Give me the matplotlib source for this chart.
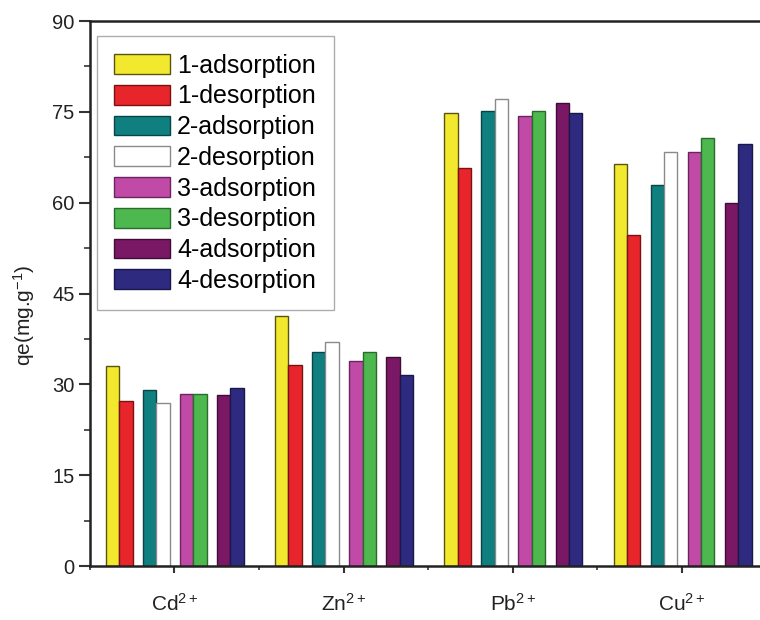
import numpy as np
import matplotlib
matplotlib.use("Agg")
import matplotlib.pyplot as plt
from matplotlib.ticker import MultipleLocator, FixedLocator

plt.rcParams["font.family"] = ["Liberation Sans", "DejaVu Sans"]
plt.rcParams["mathtext.fontset"] = "custom"
plt.rcParams["mathtext.rm"] = "Liberation Sans"
plt.rcParams["mathtext.it"] = "Liberation Sans:italic"
plt.rcParams["mathtext.default"] = "regular"

ions = ["Cd$^{2+}$", "Zn$^{2+}$", "Pb$^{2+}$", "Cu$^{2+}$"]
series = ["1-adsorption", "1-desorption", "2-adsorption", "2-desorption",
          "3-adsorption", "3-desorption", "4-adsorption", "4-desorption"]

ads1 = [33.0, 41.3, 74.8, 66.4]
des1 = [27.3, 33.2, 65.7, 54.6]
ads2 = [29.1, 35.3, 75.1, 62.9]
des2 = [26.9, 37.0, 77.1, 68.4]
ads3 = [28.4, 33.8, 74.4, 68.3]
des3 = [28.4, 35.3, 75.1, 70.7]
ads4 = [28.2, 34.5, 76.5, 59.9]
des4 = [29.4, 31.5, 74.8, 69.7]
values = [ads1, des1, ads2, des2, ads3, des3, ads4, des4]

fills = ["#f2e82e", "#e8252a", "#0f7f80", "#ffffff",
         "#c04aa6", "#4db84e", "#7a1866", "#2d2a80"]
edges = ["#5a5410", "#7a1214", "#0a4446", "#8a8a8a",
         "#6a2460", "#2a6a2c", "#3e0c34", "#1a1848"]

fig = plt.figure(figsize=(7.6, 6.2), dpi=100)
ax = fig.add_axes([0.118, 0.087, 0.882, 0.879])

x = np.arange(1, len(ions) + 1)
w = 0.079
step = 0.219
for i, (name, vals) in enumerate(zip(series, values)):
    pair, side = divmod(i, 2)
    left = x - 0.405 + pair * step + side * w
    ax.bar(left, vals, width=w, align="edge", color=fills[i],
           edgecolor=edges[i], linewidth=1.0, label=name)

ax.set_xlim(0.5, 4.46)
ax.set_ylim(0, 90)
ax.yaxis.set_major_locator(MultipleLocator(15))
ax.yaxis.set_minor_locator(MultipleLocator(7.5))
ax.set_xticks(x)
ax.set_xticklabels(ions, fontsize=15)
ax.xaxis.set_minor_locator(FixedLocator([0.5, 1.5, 2.5, 3.5]))
ax.tick_params(axis="y", which="major", labelsize=14.5, length=8, width=1.5,
               pad=3, direction="out", colors="#333333", labelcolor="#222222")
ax.tick_params(axis="y", which="minor", length=4, width=1.2, direction="out", colors="#333333")
ax.tick_params(axis="x", which="major", length=5, width=1.5, direction="out",
               pad=14, colors="#333333", labelcolor="#222222")
ax.tick_params(axis="x", which="minor", length=3, width=1.2, direction="out", colors="#333333")

for s in ["left", "bottom", "top"]:
    ax.spines[s].set_linewidth(1.8)
    ax.spines[s].set_color("#222222")
ax.spines["right"].set_visible(False)

ax.set_ylabel("qe(mg.g$^{-1}$)", fontsize=15, color="#222222")
ax.yaxis.set_label_coords(-0.078, 0.46)

leg = ax.legend(loc="upper left", bbox_to_anchor=(0.0104, 0.9725), fontsize=18,
                frameon=True, fancybox=False, edgecolor="#999999",
                handlelength=2.24, handleheight=0.84, labelspacing=0.27,
                handletextpad=0.28, borderpad=0.7, borderaxespad=0)
leg.get_frame().set_linewidth(1.0)

fig.savefig("out.png", dpi=100)
